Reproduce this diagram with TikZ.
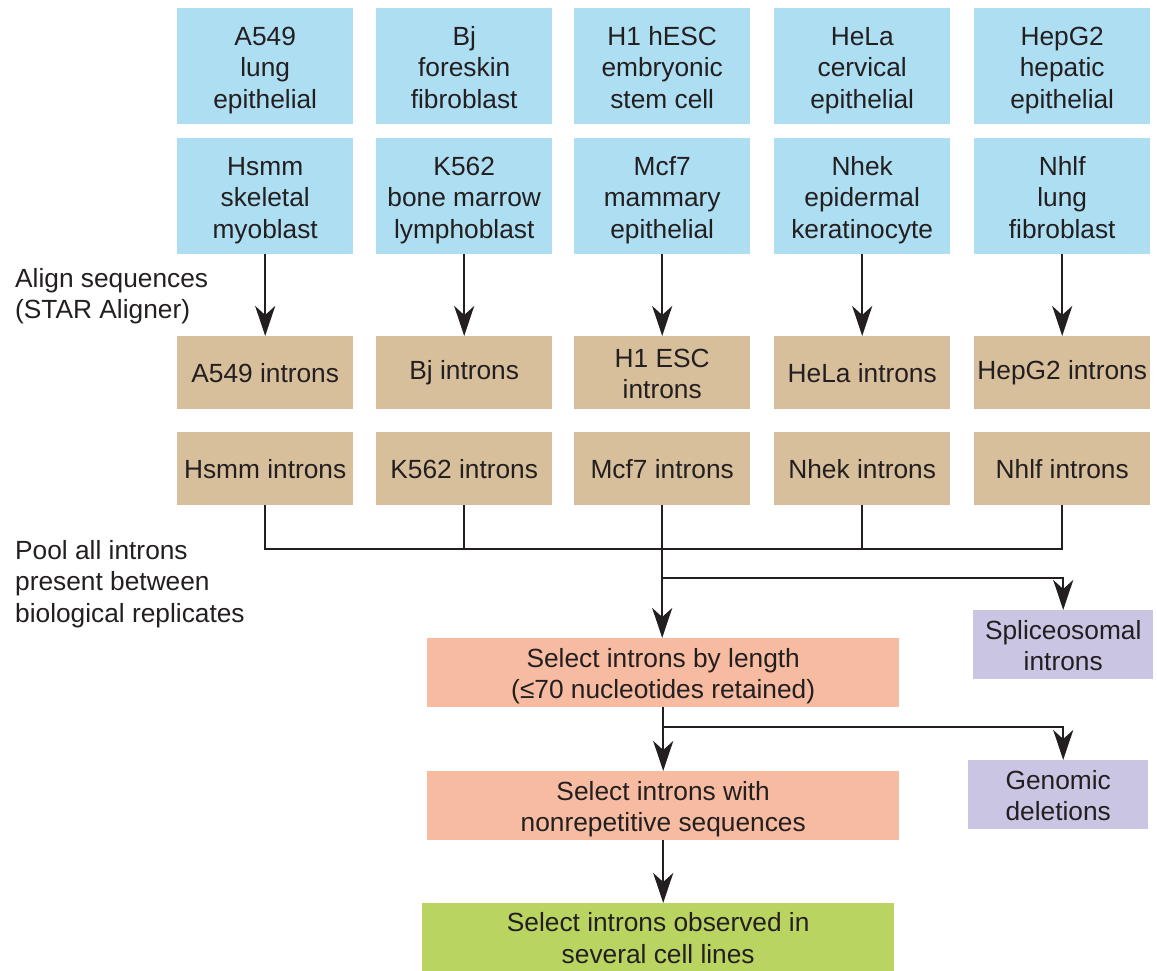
\documentclass[tikz,border=0pt]{standalone}
\usepackage{fontspec}
\setmainfont{Liberation Sans}
\usetikzlibrary{arrows.meta}
\definecolor{cblue}{HTML}{ADDEF1}
\definecolor{ctan}{HTML}{D8BF9B}
\definecolor{csalmon}{HTML}{F6BBA0}
\definecolor{cpurple}{HTML}{CAC5E3}
\definecolor{cgreen}{HTML}{BAD462}
\definecolor{ctext}{HTML}{231F20}
\newcommand{\tstr}{\rule{0pt}{28pt}}
\newcommand{\bstr}{\rule[-7pt]{0pt}{7pt}}
\begin{document}
\begin{tikzpicture}[x=1pt,y=-1pt,
  every node/.style={font=\fontsize{26.3}{31.5}\selectfont, text=ctext},
  box/.style={inner sep=0pt, align=center, anchor=north west},
  cell/.style={box, fill=cblue, minimum width=176pt, minimum height=116pt},
  intr/.style={box, fill=ctan, minimum width=176pt, minimum height=73pt},
  sel/.style={box, fill=csalmon, minimum width=472pt, minimum height=69pt},
  side/.style={box, fill=cpurple, minimum width=180pt, minimum height=69pt},
  conn/.style={draw=ctext, line width=2.4pt},
  arr/.style={conn, -{Stealth[length=30pt, width=20pt, inset=9pt]}},
  lbl/.style={anchor=north west, align=left, inner sep=0pt}
]
\useasboundingbox (0,0) rectangle (1157,970);
% row 1
\node[cell] (a1) at (177,8) {\tstr A549\\lung\\epithelial\bstr};
\node[cell] (a2) at (376,8) {\tstr Bj\\foreskin\\fibroblast\bstr};
\node[cell] (a3) at (574,8) {\tstr H1 hESC\\embryonic\\stem cell\bstr};
\node[cell] (a4) at (774,8) {\tstr HeLa\\cervical\\epithelial\bstr};
\node[cell] (a5) at (974,8) {\tstr HepG2\\hepatic\\epithelial\bstr};
% row 2
\node[cell] (b1) at (177,138) {\tstr Hsmm\\skeletal\\myoblast\bstr};
\node[cell] (b2) at (376,138) {\tstr K562\\bone marrow\\lymphoblast\bstr};
\node[cell] (b3) at (574,138) {\tstr Mcf7\\mammary\\epithelial\bstr};
\node[cell] (b4) at (774,138) {\tstr Nhek\\epidermal\\keratinocyte\bstr};
\node[cell] (b5) at (974,138) {\tstr Nhlf\\lung\\fibroblast\bstr};
% introns row 1
\node[intr] (c1) at (177,336) {A549 introns};
\node[intr] (c2) at (376,336) {Bj introns};
\node[intr] (c3) at (574,336) {\tstr H1 ESC\\introns\bstr};
\node[intr] (c4) at (774,336) {HeLa introns};
\node[intr] (c5) at (974,336) {HepG2 introns};
% introns row 2
\node[intr] (d1) at (177,432) {Hsmm introns};
\node[intr] (d2) at (376,432) {K562 introns};
\node[intr] (d3) at (574,432) {Mcf7 introns};
\node[intr] (d4) at (774,432) {Nhek introns};
\node[intr] (d5) at (974,432) {Nhlf introns};
% selection
\node[sel] (s1) at (427,638) {\tstr Select introns by length\\(≤70 nucleotides retained)\bstr};
\node[sel] (s2) at (427,771) {\tstr Select introns with\\nonrepetitive sequences\bstr};
\node[box, fill=cgreen, minimum width=472pt, minimum height=68pt] (s3) at (422,903) {\tstr Select introns observed in\\several cell lines\bstr};
\node[side] (p1) at (973,610) {\tstr Spliceosomal\\introns\bstr};
\node[side] (p2) at (968,760) {\tstr Genomic\\deletions\bstr};
% labels
\node[lbl] (l1) at (15,259) {\tstr Align sequences\\(STAR Aligner)\bstr};
\node[lbl] (l2) at (15,531) {\tstr Pool all introns\\present between\\biological replicates\bstr};
% arrows blue -> tan
\foreach \i in {1,...,5} {\draw[arr] (b\i.south) -- (c\i.north);}
% pooling
\coordinate (h1) at (d1.south |- 0,549);
\coordinate (h5) at (d5.south |- 0,549);
\foreach \i in {1,...,5} {\draw[conn] (d\i.south) -- (d\i.south |- 0,549);}
\draw[conn, line cap=rect] (h1) -- (h5);
\coordinate (j1) at (d3.south |- 0,578);
\draw[arr] (d3.south |- 0,549) -- (s1.north -| d3.south);
\draw[conn] (j1) -- (p1.north |- 0,578);
\draw[arr] (p1.north |- 0,576.8) -- (p1.north);
\coordinate (j2) at (s1.south |- 0,727);
\draw[arr] (s1.south) -- (s2.north);
\draw[conn] (j2) -- (p1.north |- 0,727);
\draw[arr] (p1.north |- 0,725.8) -- (p2.north -| p1.north);
\draw[arr] (s2.south) -- (s3.north -| s2.south);
\end{tikzpicture}
\end{document}
